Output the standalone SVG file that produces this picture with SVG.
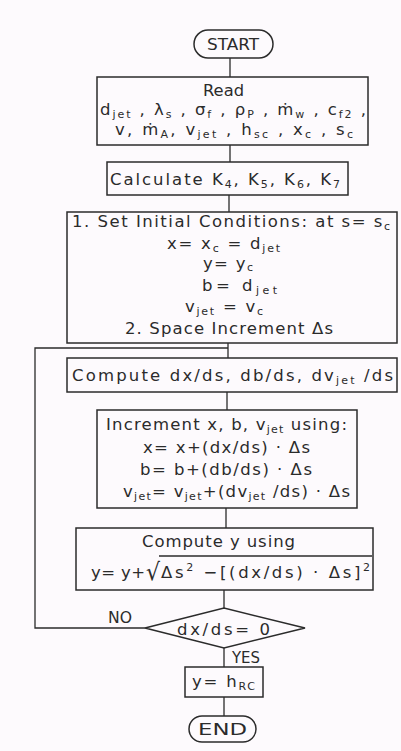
<svg xmlns="http://www.w3.org/2000/svg" width="401" height="751" viewBox="0 0 401 751">
<style>
.t{font-family:"DejaVu Sans","Liberation Sans",sans-serif;font-size:16.5px;fill:#2b2b2b}
.s{font-size:11px}
.b{fill:none;stroke:#2b2b2b;stroke-width:1.5}
.c{fill:none;stroke:#2b2b2b;stroke-width:1.3}
</style>
<rect width="401" height="751" fill="#fdfafd"/>
<g id="connectors">
<line class="c" x1="230" y1="58" x2="230" y2="77"/>
<line class="c" x1="230" y1="145" x2="230" y2="162"/>
<line class="c" x1="229" y1="195" x2="229" y2="212"/>
<line class="c" x1="228" y1="343" x2="228" y2="358"/>
<line class="c" x1="227" y1="392" x2="227" y2="410"/>
<line class="c" x1="226" y1="508" x2="226" y2="528"/>
<line class="c" x1="224" y1="590" x2="224" y2="608"/>
<line class="c" x1="224" y1="648" x2="224" y2="667"/>
<line class="c" x1="224" y1="697" x2="224" y2="716"/>
<polyline class="c" points="145,628 35,628 35,348 228,348"/>
<text class="t" x="108" y="623" textLength="24" lengthAdjust="spacingAndGlyphs">NO</text>
<text class="t" x="232" y="663" textLength="28" lengthAdjust="spacingAndGlyphs">YES</text>
</g>
<g id="start">
<rect class="b" x="194" y="30" width="79" height="28" rx="14"/>
<text class="t" x="207" y="50" textLength="52" lengthAdjust="spacingAndGlyphs">START</text>
</g>
<g id="read">
<rect class="b" x="97" y="77" width="271" height="68"/>
<text class="t" x="203" y="96" textLength="41" lengthAdjust="spacingAndGlyphs">Read</text>
<text class="t" x="100" y="115" textLength="266" lengthAdjust="spacing">d<tspan class="s" dy="3">jet</tspan><tspan dy="-3"> , λ</tspan><tspan class="s" dy="3">s</tspan><tspan dy="-3"> , σ</tspan><tspan class="s" dy="3">f</tspan><tspan dy="-3"> , ρ</tspan><tspan class="s" dy="3">P</tspan><tspan dy="-3"> , ṁ</tspan><tspan class="s" dy="3">w</tspan><tspan dy="-3"> , c</tspan><tspan class="s" dy="3">f2</tspan><tspan dy="-3"> ,</tspan></text>
<text class="t" x="115" y="135" textLength="238" lengthAdjust="spacing">v, ṁ<tspan class="s" dy="3">A</tspan><tspan dy="-3">, v</tspan><tspan class="s" dy="3">jet</tspan><tspan dy="-3"> , h</tspan><tspan class="s" dy="3">sc</tspan><tspan dy="-3"> , x</tspan><tspan class="s" dy="3">c</tspan><tspan dy="-3"> , s</tspan><tspan class="s" dy="3">c</tspan></text>
</g>
<g id="calculate">
<rect class="b" x="107" y="162" width="241" height="33"/>
<text class="t" x="110" y="185" textLength="230" lengthAdjust="spacing">Calculate K<tspan class="s" dy="3">4</tspan><tspan dy="-3">, K</tspan><tspan class="s" dy="3">5</tspan><tspan dy="-3">, K</tspan><tspan class="s" dy="3">6</tspan><tspan dy="-3">, K</tspan><tspan class="s" dy="3">7</tspan></text>
</g>
<g id="initial">
<rect class="b" x="67" y="212" width="330" height="131"/>
<text class="t" x="72" y="227" textLength="318" lengthAdjust="spacing">1. Set Initial Conditions: at s= s<tspan class="s" dy="3">c</tspan></text>
<text class="t" x="167" y="249" textLength="113" lengthAdjust="spacing">x= x<tspan class="s" dy="3">c</tspan><tspan dy="-3"> = d</tspan><tspan class="s" dy="3">jet</tspan></text>
<text class="t" x="203" y="269" textLength="50" lengthAdjust="spacing">y= y<tspan class="s" dy="2">c</tspan></text>
<text class="t" x="202" y="291" textLength="75" lengthAdjust="spacing">b= d<tspan class="s" dy="3">jet</tspan></text>
<text class="t" x="185" y="312" textLength="78" lengthAdjust="spacing">v<tspan class="s" dy="3">jet</tspan><tspan dy="-3"> = v</tspan><tspan class="s" dy="3">c</tspan></text>
<text class="t" x="125" y="334" textLength="208" lengthAdjust="spacing">2. Space Increment Δs</text>
</g>
<g id="derivs">
<rect class="b" x="67" y="358" width="330" height="34"/>
<text class="t" x="72" y="381" textLength="321" lengthAdjust="spacing">Compute dx/ds, db/ds, dv<tspan class="s" dy="3">jet</tspan><tspan dy="-3"> /ds</tspan></text>
</g>
<g id="increment">
<rect class="b" x="97" y="410" width="260" height="98"/>
<text class="t" x="106" y="430" textLength="241" lengthAdjust="spacing">Increment x, b, v<tspan class="s" dy="3">jet</tspan><tspan dy="-3"> using:</tspan></text>
<text class="t" x="143" y="453" textLength="167" lengthAdjust="spacing">x= x+(dx/ds) · Δs</text>
<text class="t" x="140" y="475" textLength="172" lengthAdjust="spacing">b= b+(db/ds) · Δs</text>
<text class="t" x="123" y="497" textLength="227" lengthAdjust="spacing">v<tspan class="s" dy="3">jet</tspan><tspan dy="-3">= v</tspan><tspan class="s" dy="3">jet</tspan><tspan dy="-3">+(dv</tspan><tspan class="s" dy="3">jet</tspan><tspan dy="-3"> /ds) · Δs</tspan></text>
</g>
<g id="computey">
<rect class="b" x="76" y="528" width="297" height="62"/>
<text class="t" x="142" y="547" textLength="153" lengthAdjust="spacing">Compute y using</text>
<text class="t" x="91" y="578" textLength="54" lengthAdjust="spacing">y= y+</text>
<text class="t" x="146" y="580" style="font-size:24px" textLength="14" lengthAdjust="spacingAndGlyphs">√</text>
<line class="c" x1="159" y1="556" x2="372" y2="556"/>
<text class="t" x="161" y="578" textLength="209" lengthAdjust="spacing">Δs<tspan class="s" dy="-7">2</tspan><tspan dy="7"> −[(dx/ds) · Δs]</tspan><tspan class="s" dy="-7">2</tspan></text>
</g>
<g id="decision">
<polygon class="b" points="145,628 224,608 305,628 224,648"/>
<text class="t" x="177" y="635" textLength="93" lengthAdjust="spacing">dx/ds= 0</text>
</g>
<g id="result">
<rect class="b" x="185" y="667" width="78" height="30"/>
<text class="t" x="192" y="687" textLength="63" lengthAdjust="spacing">y= h<tspan class="s" dy="3">RC</tspan></text>
</g>
<g id="end">
<rect class="b" x="189" y="716" width="67" height="26" rx="13"/>
<text class="t" x="198" y="735" textLength="49" lengthAdjust="spacingAndGlyphs">END</text>
</g>
</svg>
